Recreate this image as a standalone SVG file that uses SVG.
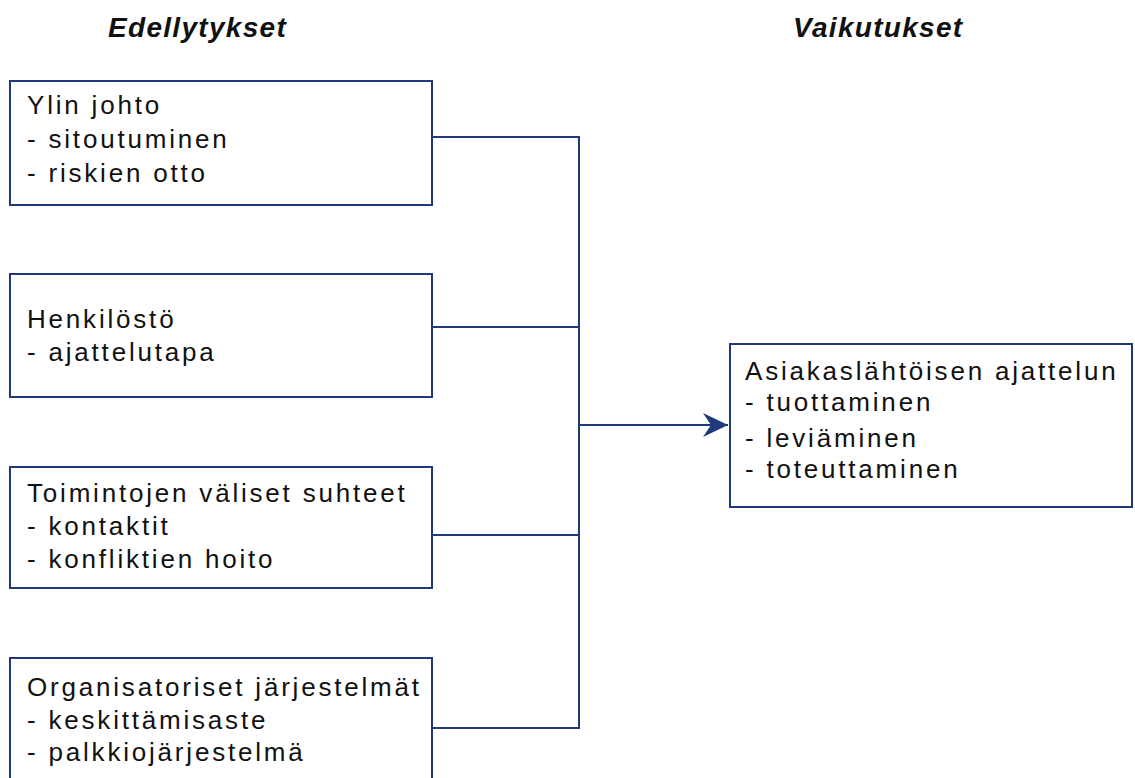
<svg xmlns="http://www.w3.org/2000/svg" width="1135" height="778" viewBox="0 0 1135 778">
<style>
.box{fill:#fff;stroke:#1f3a7a;stroke-width:2}
.t{font-family:"Liberation Sans",Arial,sans-serif;font-size:26px;letter-spacing:2.8px;fill:#111}
.h{font-family:"Liberation Sans",Arial,sans-serif;font-size:28px;font-weight:bold;font-style:italic;letter-spacing:1.3px;fill:#111}
.c{fill:none;stroke:#1f3a7a;stroke-width:2}
</style>
<defs>
<marker id="arr" markerUnits="userSpaceOnUse" markerWidth="30" markerHeight="30" viewBox="0 0 30 30" refX="25" refY="15" orient="auto">
<path d="M0,3 L25,15 L0,27 L8,15 Z" fill="#1f3a7a"/>
</marker>
</defs>
<rect width="1135" height="778" fill="#fff"/>
<text class="h" x="108" y="37">Edellytykset</text>
<text class="h" x="793" y="37">Vaikutukset</text>
<g id="connectors">
<path class="c" d="M432,137 H579 V728 H432"/>
<path class="c" d="M432,327 H579"/>
<path class="c" d="M432,535 H579"/>
<path class="c" d="M579,425 H728" marker-end="url(#arr)"/>
</g>
<g id="n1">
<rect class="box" x="10" y="81" width="422" height="124"/>
<text class="t" x="27" y="114">Ylin johto</text>
<text class="t" x="27" y="148">- sitoutuminen</text>
<text class="t" x="27" y="182">- riskien otto</text>
</g>
<g id="n2">
<rect class="box" x="10" y="274" width="422" height="123"/>
<text class="t" x="27" y="328">Henkilöstö</text>
<text class="t" x="27" y="361">- ajattelutapa</text>
</g>
<g id="n3">
<rect class="box" x="10" y="467" width="422" height="121"/>
<text class="t" x="27" y="502">Toimintojen väliset suhteet</text>
<text class="t" x="27" y="535">- kontaktit</text>
<text class="t" x="27" y="568">- konfliktien hoito</text>
</g>
<g id="n4">
<rect class="box" x="10" y="658" width="422" height="140"/>
<text class="t" x="27" y="696">Organisatoriset järjestelmät</text>
<text class="t" x="27" y="729">- keskittämisaste</text>
<text class="t" x="27" y="761">- palkkiojärjestelmä</text>
</g>
<g id="n5">
<rect class="box" x="730" y="344" width="402" height="163"/>
<text class="t" x="745" y="380">Asiakaslähtöisen ajattelun</text>
<text class="t" x="745" y="411">- tuottaminen</text>
<text class="t" x="745" y="447">- leviäminen</text>
<text class="t" x="745" y="478">- toteuttaminen</text>
</g>
</svg>
